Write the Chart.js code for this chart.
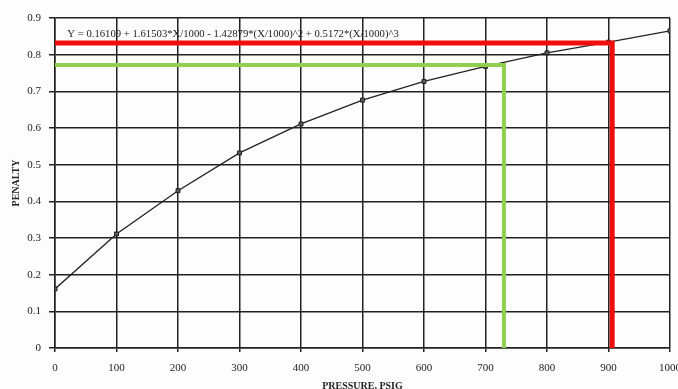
<!DOCTYPE html>
<html>
<head>
<meta charset="utf-8">
<script src="https://cdn.jsdelivr.net/npm/chart.js@4/dist/chart.umd.min.js"></script>
<style>
  html, body { margin: 0; padding: 0; background: #fdfdfd; }
  #wrap { width: 678px; height: 389px; position: relative; }
</style>
</head>
<body>
<div id="wrap"><canvas id="c" width="678" height="389"></canvas></div>
<script>
// Penalty versus pressure (psig)
const pressure = [0, 100, 200, 300, 400, 500, 600, 700, 800, 900, 1000];
const penalty  = [0.161, 0.311, 0.429, 0.532, 0.611, 0.676, 0.727, 0.768, 0.805, 0.834, 0.865];

// Read-off guides: [pressure, penalty]
const redGuide   = [906, 0.832];
const greenGuide = [730, 0.772];

const xTicks = [0, 100, 200, 300, 400, 500, 600, 700, 800, 900, 1000];
const yTicks = [0, 0.1, 0.2, 0.3, 0.4, 0.5, 0.6, 0.7, 0.8, 0.9];

const fitLabel = 'Y = 0.16109 + 1.61503*X/1000 - 1.42879*(X/1000)^2 + 0.5172*(X/1000)^3';

function guidePath(g) {
  return [{x: 0, y: g[1]}, {x: g[0], y: g[1]}, {x: g[0], y: 0}];
}

const SERIF = '"Liberation Serif", "Times New Roman", serif';
const INK = '#222';

const fitText = {
  id: 'fitText',
  afterDatasetsDraw(chart) {
    const {ctx, scales} = chart;
    const x = scales.x.getPixelForValue(20);
    const y = scales.y.getPixelForValue(0.855);
    ctx.save();
    ctx.font = '10.7px ' + SERIF;
    ctx.fillStyle = INK;
    ctx.textBaseline = 'middle';
    ctx.textAlign = 'left';
    ctx.fillText(fitLabel, x, y);
    ctx.restore();
  }
};

new Chart(document.getElementById('c'), {
  type: 'scatter',
  data: {
    datasets: [
      {
        label: 'Penalty',
        data: pressure.map((p, i) => ({x: p, y: penalty[i]})),
        showLine: true,
        borderColor: INK,
        borderWidth: 1.3,
        pointStyle: 'rect',
        pointRadius: 2.8,
        pointBackgroundColor: '#5a5a5a',
        pointBorderColor: '#222',
        pointBorderWidth: 1,
        tension: 0,
        order: 3
      },
      {
        label: 'Green guide',
        data: guidePath(greenGuide),
        showLine: true,
        borderColor: '#8fd14f',
        borderWidth: 4,
        pointRadius: 0,
        borderJoinStyle: 'miter',
        borderCapStyle: 'butt',
        order: 2
      },
      {
        label: 'Red guide',
        data: guidePath(redGuide),
        showLine: true,
        borderColor: '#f20d0d',
        borderWidth: 5,
        pointRadius: 0,
        borderJoinStyle: 'miter',
        borderCapStyle: 'butt',
        order: 1
      }
    ]
  },
  options: {
    responsive: false,
    animation: false,
    devicePixelRatio: 1,
    layout: { padding: { left: 0, right: 8, top: 18, bottom: 0 } },
    plugins: {
      legend: { display: false },
      tooltip: { enabled: false }
    },
    scales: {
      x: {
        type: 'linear',
        min: 0,
        max: 1000,
        afterBuildTicks(scale) { scale.ticks = xTicks.map(v => ({value: v})); },
        afterFit(scale) { scale.height = 41; scale.paddingLeft = 0; scale.paddingRight = 0; },
        ticks: {
          font: { family: SERIF, size: 11 },
          color: INK,
          padding: 10,
          maxRotation: 0,
          autoSkip: false,
          callback: v => String(v)
        },
        grid: { color: INK, lineWidth: 1.5, tickLength: 4 },
        border: { color: INK, width: 1.5 },
        title: {
          display: true,
          text: 'PRESSURE, PSIG',
          font: { family: SERIF, size: 10, weight: 'bold' },
          color: INK,
          padding: { top: 0, bottom: -3 }
        }
      },
      y: {
        type: 'linear',
        min: 0,
        max: 0.9,
        afterBuildTicks(scale) { scale.ticks = yTicks.map(v => ({value: v})); },
        afterFit(scale) { scale.width = 55; },
        ticks: {
          font: { family: SERIF, size: 11 },
          color: INK,
          padding: 8,
          callback: v => (v === 0 ? '0' : v.toFixed(1))
        },
        grid: { color: INK, lineWidth: 1.5, tickLength: 6 },
        border: { color: INK, width: 1.5 },
        title: {
          display: true,
          text: 'PENALTY',
          font: { family: SERIF, size: 10, weight: 'bold' },
          color: INK,
          padding: { top: 10, bottom: 0 }
        }
      }
    }
  },
  plugins: [fitText]
});
</script>
</body>
</html>
